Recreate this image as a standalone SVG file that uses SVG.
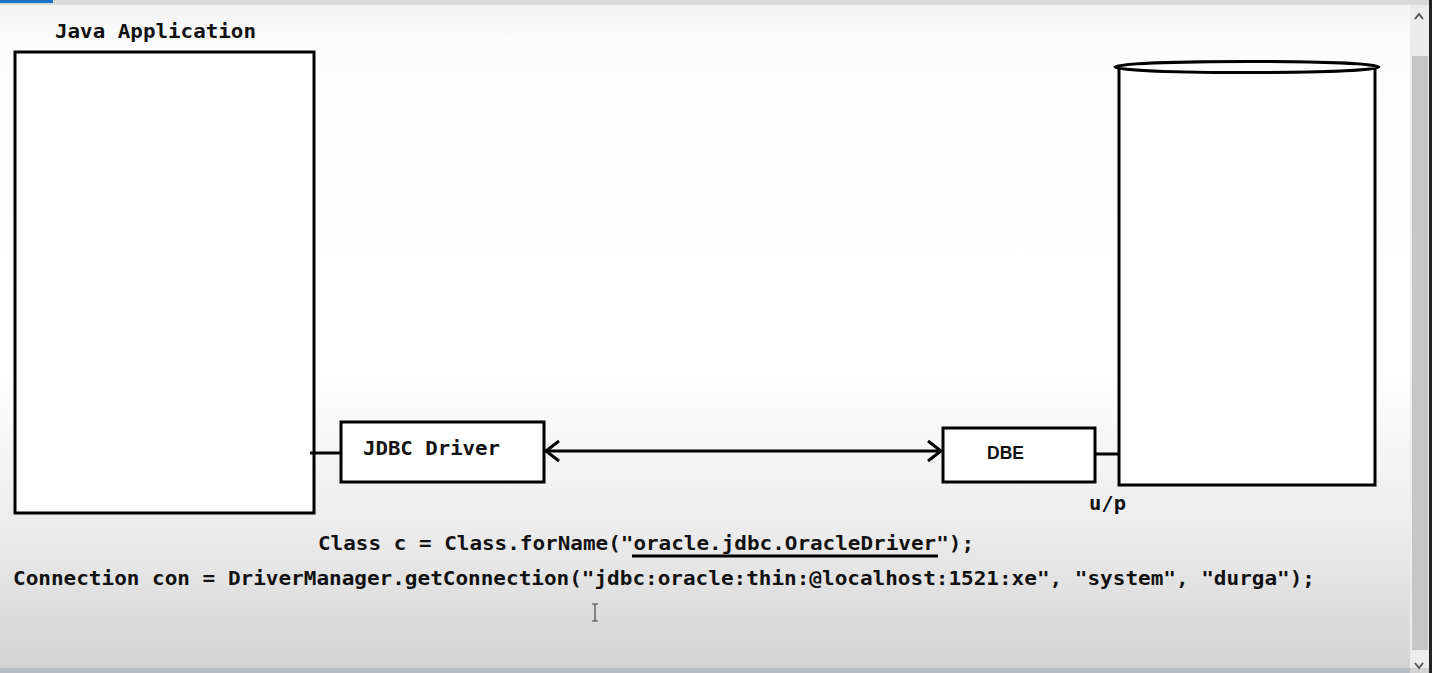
<svg xmlns="http://www.w3.org/2000/svg" width="1432" height="673" viewBox="0 0 1432 673">
<defs>
<linearGradient id="bg" x1="0" y1="0" x2="0" y2="1">
<stop offset="0" stop-color="#f2f2f2"/>
<stop offset="0.06" stop-color="#fcfcfc"/>
<stop offset="0.55" stop-color="#ffffff"/>
<stop offset="0.78" stop-color="#ededed"/>
<stop offset="1" stop-color="#d2d2d2"/>
</linearGradient>
<marker id="open" viewBox="0 0 18 26" refX="16" refY="13" markerWidth="18" markerHeight="26" markerUnits="userSpaceOnUse" orient="auto-start-reverse" overflow="visible">
<path d="M3,3 L16,13 L3,23" fill="none" stroke="#000" stroke-width="3"/>
</marker>
<style>
.box{fill:#fff;stroke:#000;stroke-width:3}
.ln{fill:none;stroke:#000;stroke-width:3}
.t{font-family:"DejaVu Sans Mono","Liberation Mono",monospace;font-weight:bold;font-size:19px;fill:#111}
.s{font-family:"Liberation Sans","DejaVu Sans",sans-serif;font-weight:bold;font-size:19px;fill:#111}
</style>
</defs>
<rect width="1432" height="673" fill="url(#bg)"/>
<rect x="0" y="0" width="1432" height="5" fill="#d9d9d9"/>
<rect x="0" y="0" width="53" height="3" fill="#1a73c8"/>
<rect x="1410" y="5" width="19" height="663" fill="#ececec"/>
<rect x="1412" y="56" width="16" height="594" fill="#c6c6c6"/>
<path d="M1415,19 L1419,14 L1423,19" fill="none" stroke="#555" stroke-width="2"/>
<path d="M1415,663 L1419,668 L1423,663" fill="none" stroke="#555" stroke-width="2"/>
<rect x="1429" y="0" width="3" height="673" fill="#222"/>
<rect x="0" y="668" width="1410" height="5" fill="#b8bcc4"/>

<g id="java-application">
<text class="t" x="55" y="38" textLength="201" lengthAdjust="spacingAndGlyphs">Java Application</text>
<rect class="box" x="15" y="52" width="299" height="461"/>
</g>
<g id="jdbc-driver">
<rect class="box" x="341" y="422" width="203" height="60"/>
<text class="t" x="363" y="455" textLength="137" lengthAdjust="spacingAndGlyphs">JDBC Driver</text>
</g>
<g id="dbe">
<rect class="box" x="943" y="428" width="152" height="54"/>
<text class="s" x="987" y="459" textLength="37" lengthAdjust="spacingAndGlyphs">DBE</text>
</g>
<g id="database">
<path class="box" d="M1119,67 L1119,485 L1375,485 L1375,67"/>
<ellipse cx="1247" cy="67" rx="132" ry="5.5" fill="#fff" stroke="#000" stroke-width="3"/>
<text class="t" x="1089" y="510" textLength="37" lengthAdjust="spacingAndGlyphs">u/p</text>
</g>
<g id="connectors">
<line class="ln" x1="310" y1="453" x2="341" y2="453"/>
<line class="ln" x1="546" y1="451" x2="941" y2="451" marker-start="url(#open)" marker-end="url(#open)"/>
<line class="ln" x1="1095" y1="454" x2="1119" y2="454"/>
</g>
<g id="code">
<text class="t" x="318" y="550" textLength="656" lengthAdjust="spacingAndGlyphs">Class c = Class.forName("oracle.jdbc.OracleDriver");</text>
<line x1="632" y1="556" x2="938" y2="556" stroke="#000" stroke-width="3"/>
<text class="t" x="13" y="585" textLength="1302" lengthAdjust="spacingAndGlyphs">Connection con = DriverManager.getConnection("jdbc:oracle:thin:@localhost:1521:xe", "system", "durga");</text>
</g>
<path d="M592,604 L598,604 M595,604 L595,621 M592,621 L598,621" fill="none" stroke="#444" stroke-width="1.2"/>
</svg>
